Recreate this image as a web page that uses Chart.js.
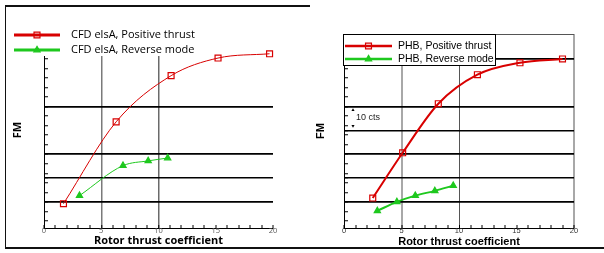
<!DOCTYPE html>
<html>
<head>
<meta charset="utf-8">
<script src="https://cdn.jsdelivr.net/npm/chart.js@4.4.1/dist/chart.umd.min.js"></script>
<style>
  body { margin: 0; background: #fff; }
  #wrap { position: relative; width: 604px; height: 253px; overflow: hidden; }
  canvas { position: absolute; top: 0; }
  #left { left: 0; }
  #right { left: 300px; }
  .ln { position: absolute; background: #111; }
</style>
</head>
<body>
<div id="wrap">
  <canvas id="left" width="300" height="253"></canvas>
  <canvas id="right" width="304" height="253"></canvas>
  <div class="ln" style="left:5px;top:5px;width:305px;height:2px"></div>
  <div class="ln" style="left:5px;top:5px;width:1px;height:244px"></div>
  <div class="ln" style="left:5px;top:247px;width:599px;height:2px"></div>
</div>
<script>
// values (FM has no printed scale, units are arbitrary)
const xTickLabels = [0, 5, 10, 15, 20];

const cfdPosX = [1.7, 6.3, 11.1, 15.2, 19.7];
const cfdPosFM = [0.396, 0.568, 0.665, 0.702, 0.711];
const cfdRevX = [3.1, 6.9, 9.1, 10.8];
const cfdRevFM = [0.413, 0.476, 0.486, 0.492];

const phbPosX = [2.5, 5.1, 8.2, 11.6, 15.3, 19.0];
const phbPosFM = [0.408, 0.503, 0.606, 0.667, 0.692, 0.700];
const phbRevX = [2.9, 4.6, 6.2, 7.9, 9.5];
const phbRevFM = [0.381, 0.400, 0.413, 0.423, 0.434];

const gridLeft = [0.40, 0.45, 0.50, 0.60];
const gridRight = [0.40, 0.45, 0.50, 0.55, 0.60, 0.70];

const legendLeft = ['CFD elsA, Positive thrust', 'CFD elsA, Reverse mode'];
const legendRight = ['PHB, Positive thrust', 'PHB, Reverse mode'];

const RED = '#d80000';
const GREEN = '#1ec81e';

function pts(xs, ys) {
  return xs.map((x, i) => ({ x: x, y: ys[i] }));
}

function near(list, v) {
  return list.some(g => Math.abs(g - v) < 1e-6);
}

// legend, frame and free labels drawn over the plot
const extras = {
  id: 'extras',
  afterDatasetsDraw(chart, args, o) {
    const ctx = chart.ctx, a = chart.chartArea;
    ctx.save();
    if (o.frame) {
      ctx.strokeStyle = o.frame;
      ctx.lineWidth = 1;
      ctx.beginPath();
      ctx.moveTo(a.left, a.top + 0.5);
      ctx.lineTo(a.right, a.top + 0.5);
      ctx.stroke();
    }
    const L = o.legend;
    if (L) {
      if (L.box) {
        ctx.fillStyle = '#fff';
        ctx.fillRect(L.box[0], L.box[1], L.box[2], L.box[3]);
        ctx.strokeStyle = '#000';
        ctx.lineWidth = 1;
        ctx.strokeRect(L.box[0] + 0.5, L.box[1] + 0.5, L.box[2], L.box[3]);
      }
      chart.data.datasets.forEach((ds, i) => {
        const y = L.y + i * L.rowH;
        ctx.strokeStyle = ds.borderColor;
        ctx.lineWidth = L.lineWidth;
        ctx.beginPath();
        ctx.moveTo(L.x, y);
        ctx.lineTo(L.x + L.lineLen, y);
        ctx.stroke();
        ctx.fillStyle = ds.pointBackgroundColor;
        ctx.lineWidth = ds.pointBorderWidth;
        Chart.helpers.drawPoint(ctx, {
          pointStyle: ds.pointStyle, rotation: 0,
          radius: ds.pointRadius, borderWidth: ds.pointBorderWidth
        }, L.x + L.lineLen / 2, y);
        ctx.fillStyle = '#000';
        ctx.font = L.font;
        ctx.textAlign = 'left';
        ctx.textBaseline = 'middle';
        ctx.fillText(ds.label, L.textX, y);
      });
    }
    (o.labels || []).forEach(l => {
      ctx.save();
      ctx.translate(l.x, l.y);
      if (l.rotate) ctx.rotate(l.rotate);
      ctx.font = l.font;
      ctx.fillStyle = l.color || '#000';
      ctx.textAlign = l.align || 'center';
      ctx.textBaseline = 'middle';
      ctx.fillText(l.text, 0, 0);
      ctx.restore();
    });
    (o.arrows || []).forEach(ar => {
      ctx.fillStyle = '#000';
      ctx.strokeStyle = '#000';
      ctx.lineWidth = 1;
      Chart.helpers.drawPoint(ctx, { pointStyle: 'triangle', rotation: ar.rot, radius: 1.8, borderWidth: 0 }, ar.x, ar.y);
    });
    ctx.restore();
  }
};

function makeChart(id, cfg) {
  const datasets = cfg.series.map(s => ({
    label: s.label,
    data: s.data,
    borderColor: s.color,
    borderWidth: cfg.lineWidth,
    pointStyle: s.style,
    pointRadius: s.style === 'rect' ? 4.2 : 3.6,
    pointBorderWidth: 1.2,
    pointBorderColor: s.color,
    pointBackgroundColor: s.style === 'rect' ? 'rgba(0,0,0,0)' : s.color,
    cubicInterpolationMode: 'monotone',
    clip: false
  }));

  return new Chart(document.getElementById(id), {
    type: 'line',
    data: { datasets: datasets },
    plugins: [extras],
    options: {
      responsive: false,
      animation: false,
      layout: { padding: { left: 4, top: cfg.top, right: cfg.right, bottom: 0 } },
      plugins: {
        legend: { display: false },
        tooltip: { enabled: false },
        extras: cfg.extras
      },
      scales: {
        x: {
          type: 'linear', min: 0, max: 20,
          afterFit: s => { s.height = 25; },
          ticks: {
            stepSize: 1, autoSkip: false, maxRotation: 0, padding: 1,
            color: cfg.tickColor,
            font: { family: cfg.family, size: 7.5 },
            callback: v => xTickLabels.includes(v) ? String(v) : ''
          },
          grid: {
            color: c => cfg.vLines[c.tick.value] ? cfg.vLines[c.tick.value][0] : 'rgba(0,0,0,0)',
            lineWidth: c => cfg.vLines[c.tick.value] ? cfg.vLines[c.tick.value][1] : 0,
            tickLength: -3,
            tickColor: '#000',
            tickWidth: 1
          },
          border: { color: '#000', width: 1 },
          title: {
            display: true, text: 'Rotor thrust coefficient', color: '#000',
            font: { family: cfg.family, size: 11, weight: 'bold' },
            padding: { top: 0, bottom: cfg.titlePad }
          }
        },
        y: {
          type: 'linear', min: 0.345, max: cfg.yMax,
          afterFit: s => { s.width = 40; },
          afterBuildTicks: s => {
            const vals = cfg.grid.slice();
            for (let v = 0.36; v < cfg.yMax; v += 0.02) vals.push(Math.round(v * 1000) / 1000);
            vals.sort((p, q) => p - q);
            s.ticks = vals.map(v => ({ value: v }));
          },
          ticks: { display: false },
          grid: {
            color: c => near(cfg.grid, c.tick.value) ? '#000' : 'rgba(0,0,0,0)',
            lineWidth: 1.5,
            tickLength: -4,
            tickColor: '#000',
            tickWidth: 1
          },
          border: { color: '#000', width: 1 }
        }
      }
    }
  });
}

makeChart('left', {
  top: 56, right: 27, yMax: 0.7063, lineWidth: 1, titlePad: 6,
  family: 'Open Sans', tickColor: '#555', grid: gridLeft,
  vLines: { 5: ['#7a7a7a', 1.5], 10: ['#6a6a6a', 1.5] },
  series: [
    { label: legendLeft[0], data: pts(cfdPosX, cfdPosFM), color: RED, style: 'rect' },
    { label: legendLeft[1], data: pts(cfdRevX, cfdRevFM), color: GREEN, style: 'triangle' }
  ],
  extras: {
    legend: { x: 14, y: 35, rowH: 15, lineLen: 46, textX: 71, lineWidth: 3, font: '11px "Open Sans"' },
    labels: [{ text: 'FM', x: 18, y: 130, rotate: -Math.PI / 2, font: 'bold 11px "Open Sans"' }]
  }
});

makeChart('right', {
  top: 34, right: 30, yMax: 0.7525, lineWidth: 2, titlePad: 4,
  family: 'Liberation Sans', tickColor: '#333', grid: gridRight,
  vLines: { 5: ['#a8a8a8', 2], 10: ['#555', 1], 20: ['#a8a8a8', 2] },
  series: [
    { label: legendRight[0], data: pts(phbPosX, phbPosFM), color: RED, style: 'rect' },
    { label: legendRight[1], data: pts(phbRevX, phbRevFM), color: GREEN, style: 'triangle' }
  ],
  extras: {
    frame: '#555',
    legend: { x: 45, y: 46, rowH: 13, lineLen: 47, textX: 98, lineWidth: 2.5,
              font: '10.5px "Liberation Sans"', box: [43, 34, 152, 31] },
    labels: [
      { text: 'FM', x: 21, y: 131, rotate: -Math.PI / 2, font: 'bold 11px "Liberation Sans"' },
      { text: '10 cts', x: 56, y: 118, align: 'left', font: '9px "Liberation Sans"', color: '#222' }
    ],
    arrows: [{ x: 53, y: 110, rot: 0 }, { x: 53, y: 126, rot: 180 }]
  }
});
</script>
</body>
</html>
